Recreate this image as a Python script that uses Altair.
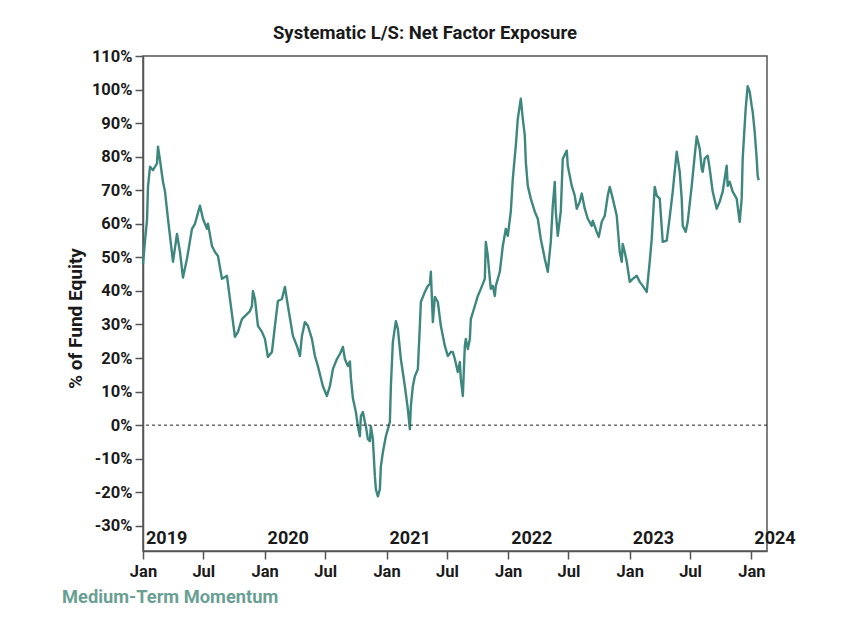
import altair as alt
import pandas as pd

dates = [
    "2019-01-01", "2019-01-07", "2019-01-13", "2019-01-16", "2019-01-22", "2019-01-31",
    "2019-02-06", "2019-02-12", "2019-02-15", "2019-02-21", "2019-03-02", "2019-03-08",
    "2019-03-17", "2019-04-01", "2019-04-13", "2019-04-22", "2019-05-01", "2019-05-13",
    "2019-05-28", "2019-06-06", "2019-06-21", "2019-06-30", "2019-07-12", "2019-07-15",
    "2019-07-27", "2019-08-05", "2019-08-14", "2019-08-26", "2019-09-10", "2019-09-19",
    "2019-10-04", "2019-10-13", "2019-10-25", "2019-11-09", "2019-11-18", "2019-11-24",
    "2019-11-27", "2019-12-03", "2019-12-12", "2019-12-24", "2020-01-02", "2020-01-11",
    "2020-01-23", "2020-02-01", "2020-02-10", "2020-02-22", "2020-03-02", "2020-03-11",
    "2020-03-26", "2020-04-07", "2020-04-16", "2020-04-22", "2020-05-01", "2020-05-10",
    "2020-05-22", "2020-05-31", "2020-06-09", "2020-06-24", "2020-07-06", "2020-07-15",
    "2020-07-24", "2020-08-05", "2020-08-14", "2020-08-23", "2020-08-29", "2020-09-07",
    "2020-09-13", "2020-09-16", "2020-09-22", "2020-10-01", "2020-10-07", "2020-10-13",
    "2020-10-16", "2020-10-22", "2020-10-28", "2020-10-31", "2020-11-06", "2020-11-12",
    "2020-11-15", "2020-11-21", "2020-11-27", "2020-11-30", "2020-12-06", "2020-12-12",
    "2020-12-15", "2020-12-21", "2020-12-30", "2021-01-05", "2021-01-11", "2021-01-14",
    "2021-01-20", "2021-01-29", "2021-02-04", "2021-02-13", "2021-02-25", "2021-03-06",
    "2021-03-12", "2021-03-15", "2021-03-21", "2021-03-27", "2021-04-05", "2021-04-11",
    "2021-04-14", "2021-04-26", "2021-05-05", "2021-05-11", "2021-05-14", "2021-05-20",
    "2021-05-26", "2021-06-04", "2021-06-13", "2021-06-25", "2021-07-04", "2021-07-13",
    "2021-07-19", "2021-07-25", "2021-08-03", "2021-08-09", "2021-08-12", "2021-08-18",
    "2021-08-24", "2021-08-27", "2021-09-02", "2021-09-08", "2021-09-11", "2021-09-23",
    "2021-10-02", "2021-10-11", "2021-10-23", "2021-10-26", "2021-11-01", "2021-11-07",
    "2021-11-10", "2021-11-16", "2021-11-22", "2021-11-25", "2021-12-07", "2021-12-16",
    "2021-12-25", "2021-12-31", "2022-01-09", "2022-01-15", "2022-01-24", "2022-01-30",
    "2022-02-08", "2022-02-14", "2022-02-20", "2022-02-23", "2022-03-01", "2022-03-10",
    "2022-03-22", "2022-03-31", "2022-04-09", "2022-04-21", "2022-04-30", "2022-05-09",
    "2022-05-15", "2022-05-21", "2022-05-24", "2022-05-30", "2022-06-08", "2022-06-14",
    "2022-06-26", "2022-06-29", "2022-07-11", "2022-07-20", "2022-07-26", "2022-08-04",
    "2022-08-10", "2022-08-19", "2022-08-28", "2022-09-09", "2022-09-12", "2022-09-24",
    "2022-09-30", "2022-10-09", "2022-10-18", "2022-10-27", "2022-11-02", "2022-11-11",
    "2022-11-23", "2022-12-02", "2022-12-08", "2022-12-11", "2022-12-17", "2022-12-23",
    "2023-01-01", "2023-01-10", "2023-01-22", "2023-01-31", "2023-02-09", "2023-02-21",
    "2023-03-02", "2023-03-08", "2023-03-17", "2023-03-23", "2023-04-01", "2023-04-10",
    "2023-04-22", "2023-05-01", "2023-05-10", "2023-05-22", "2023-05-25", "2023-05-31",
    "2023-06-06", "2023-06-09", "2023-06-18", "2023-06-24", "2023-07-06", "2023-07-15",
    "2023-07-21", "2023-07-30", "2023-08-05", "2023-08-08", "2023-08-14", "2023-08-23",
    "2023-08-29", "2023-09-07", "2023-09-19", "2023-09-28", "2023-10-07", "2023-10-19",
    "2023-10-22", "2023-10-28", "2023-11-06", "2023-11-18", "2023-11-27", "2023-12-03",
    "2023-12-06", "2023-12-15", "2023-12-21", "2023-12-27", "2024-01-02", "2024-01-05",
    "2024-01-11", "2024-01-17", "2024-01-20", "2024-01-23",
]

exposure = [
    48, 55, 61, 71, 77, 76,
    77, 78, 83, 79, 72.5, 69.6,
    61.5, 48.7, 57, 51.6, 44, 49.6,
    58.5, 60, 65.4, 61.5, 58.5, 60,
    53.4, 51.6, 50.4, 43.6, 44.5, 37.6,
    26.3, 27.8, 31.6, 33.1, 34, 35.5,
    40, 37.6, 29.6, 27.8, 25.7, 20.3,
    21.8, 29.6, 37, 37.6, 41.2, 35.5,
    26.6, 23.6, 20.6, 26.6, 30.7, 29.6,
    25.7, 20.6, 17.6, 11.6, 8.7, 11.6,
    16.7, 19.7, 21.2, 23.3, 19.7, 17.6,
    19, 14, 8, 3.9, -0.3, -3.3,
    2.7, 3.9, 0.9, -0.3, -4.2, -4.8,
    -0.3, -4.2, -15.2, -19.1, -21.2, -19.1,
    -12.2, -8.1, -3.3, -1.2, 0.9, 11.6,
    24.8, 31, 28.7, 19.7, 11.6, 4.8,
    -1.2, 5.7, 11.6, 14.6, 16.7, 29.6,
    36.7, 39.7, 41.5, 42, 45.7, 30.7,
    38.2, 36.7, 29.6, 23.6, 20.6, 21.8,
    21.8, 19.7, 15.8, 18.8, 13.7, 8.7,
    23.6, 25.7, 22.7, 25.7, 31.6, 35.5,
    38.5, 40.6, 43.6, 54.6, 50.4, 43.6,
    40.6, 41.5, 38.5, 41.5, 45.7, 53.4,
    58.5, 56.4, 63.6, 73.4, 83.3, 91.3,
    97.3, 91.3, 86.3, 78.5, 71.3, 67.5,
    63.6, 61.5, 55.5, 49.6, 45.7, 54.6,
    65.4, 72.5, 63.6, 56.4, 63.6, 79.4,
    81.8, 77.3, 71.3, 68.4, 64.5, 66.6,
    69, 64.5, 61.5, 59.4, 60.9, 57.6,
    56.1, 60.6, 62.4, 68.4, 71, 67.5,
    62.4, 51.6, 48.7, 54, 51.6, 48.7,
    42.7, 43.6, 44.5, 42.7, 41.5, 39.7,
    48.7, 55.5, 71, 68.4, 67.5, 54.6,
    55, 62, 69.6, 81.5, 79.4, 75.5,
    67.5, 59.4, 57.6, 60.6, 71.3, 80.3,
    86, 82.4, 76.4, 75.5, 79.4, 80.3,
    76.4, 69.6, 64.5, 66.6, 69.6, 77.3,
    71.3, 72.5, 69.6, 67.5, 60.6, 67.5,
    79.4, 94.3, 101, 99.4, 95.2, 93.4,
    87.5, 79.4, 74.3, 73,
]

year_dates = ["2019-01-01", "2020-01-01", "2021-01-01", "2022-01-01", "2023-01-01", "2024-01-01"]
year_labels = ["2019", "2020", "2021", "2022", "2023", "2024"]
y_ticks = list(range(-30, 111, 10))
title_text = "Systematic L/S: Net Factor Exposure"
y_title = "% of Fund Equity"
series_name = "Medium-Term Momentum"

df = pd.DataFrame({"date": dates, "value": exposure})
years_df = pd.DataFrame({"date": year_dates, "label": year_labels})
zero_df = pd.DataFrame({"value": [0]})
note_df = pd.DataFrame({"t": [series_name]})

W, H = 624, 495
FONT = "Roboto"
LINE_COLOR = "#3d877e"
AXIS_COLOR = "#555555"
TEXT_COLOR = "#1a1a1a"

x_scale = alt.Scale(
    type="utc",
    domain=[
        alt.DateTime(year=2019, month=1, date=1, utc=True),
        alt.DateTime(year=2024, month=2, date=17, utc=True),
    ],
)
y_scale = alt.Scale(domain=[-37.5, 110], nice=False, zero=False)

tick_values = []
for yr in range(2019, 2025):
    tick_values.append(alt.DateTime(year=yr, month=1, date=1, utc=True))
    if yr < 2024:
        tick_values.append(alt.DateTime(year=yr, month=7, date=1, utc=True))

x_axis = alt.Axis(
    values=tick_values,
    format="%b",
    title=None,
    grid=False,
    domainColor=AXIS_COLOR,
    domainWidth=1.5,
    tickColor=AXIS_COLOR,
    tickWidth=1.5,
    tickSize=8,
    labelFont=FONT,
    labelFontSize=16.5,
    labelFontWeight="bold",
    labelColor=TEXT_COLOR,
    labelPadding=4,
    labelFlush=False,
)

y_axis = alt.Axis(
    values=y_ticks,
    labelExpr="datum.value + '%'",
    title=y_title,
    titleFont=FONT,
    titleFontSize=19,
    titleFontWeight="bold",
    titleColor=TEXT_COLOR,
    titleAngle=270,
    titleX=-68,
    titleY=262,
    titleAlign="center",
    titleBaseline="middle",
    grid=False,
    domainColor=AXIS_COLOR,
    domainWidth=1.5,
    tickColor=AXIS_COLOR,
    tickWidth=1.5,
    tickSize=8,
    labelFont=FONT,
    labelFontSize=16.5,
    labelFontWeight="bold",
    labelColor=TEXT_COLOR,
    labelPadding=3,
    labelFlush=False,
)

line = alt.Chart(df).mark_line(color=LINE_COLOR, strokeWidth=2.4, strokeJoin="round").encode(
    x=alt.X("date:T", scale=x_scale, axis=x_axis),
    y=alt.Y("value:Q", scale=y_scale, axis=y_axis),
)

zero_rule = alt.Chart(zero_df).mark_rule(color="#222222", strokeWidth=1, strokeDash=[3, 3]).encode(
    y=alt.Y("value:Q", scale=y_scale, axis=y_axis)
)

year_text = alt.Chart(years_df).mark_text(
    align="left", baseline="middle", dx=3, font=FONT, fontSize=18, fontWeight="bold", color=TEXT_COLOR
).encode(
    x=alt.X("date:T", scale=x_scale, axis=x_axis),
    y=alt.value(H - 12),
    text="label:N",
)

note = alt.Chart(note_df).mark_text(
    align="left", baseline="middle", font=FONT, fontSize=18.3, fontWeight="bold", color="#6a9f94"
).encode(
    x=alt.value(-81),
    y=alt.value(542),
    text="t:N",
)

chart = (
    alt.layer(line, zero_rule, year_text, note)
    .properties(
        width=W,
        height=H,
        title=alt.TitleParams(
            text=title_text,
            font=FONT,
            fontSize=18.5,
            fontWeight="bold",
            color=TEXT_COLOR,
            anchor="middle",
            dx=-30,
            offset=6,
        ),
        autosize=alt.AutoSizeParams(type="none"),
        padding={"left": 135, "top": 48, "right": 73, "bottom": 68},
        background="white",
    )
    .configure_view(stroke=AXIS_COLOR, strokeWidth=1.5)
)

chart.save("out.html", embed_options={"renderer": "svg", "actions": False})
